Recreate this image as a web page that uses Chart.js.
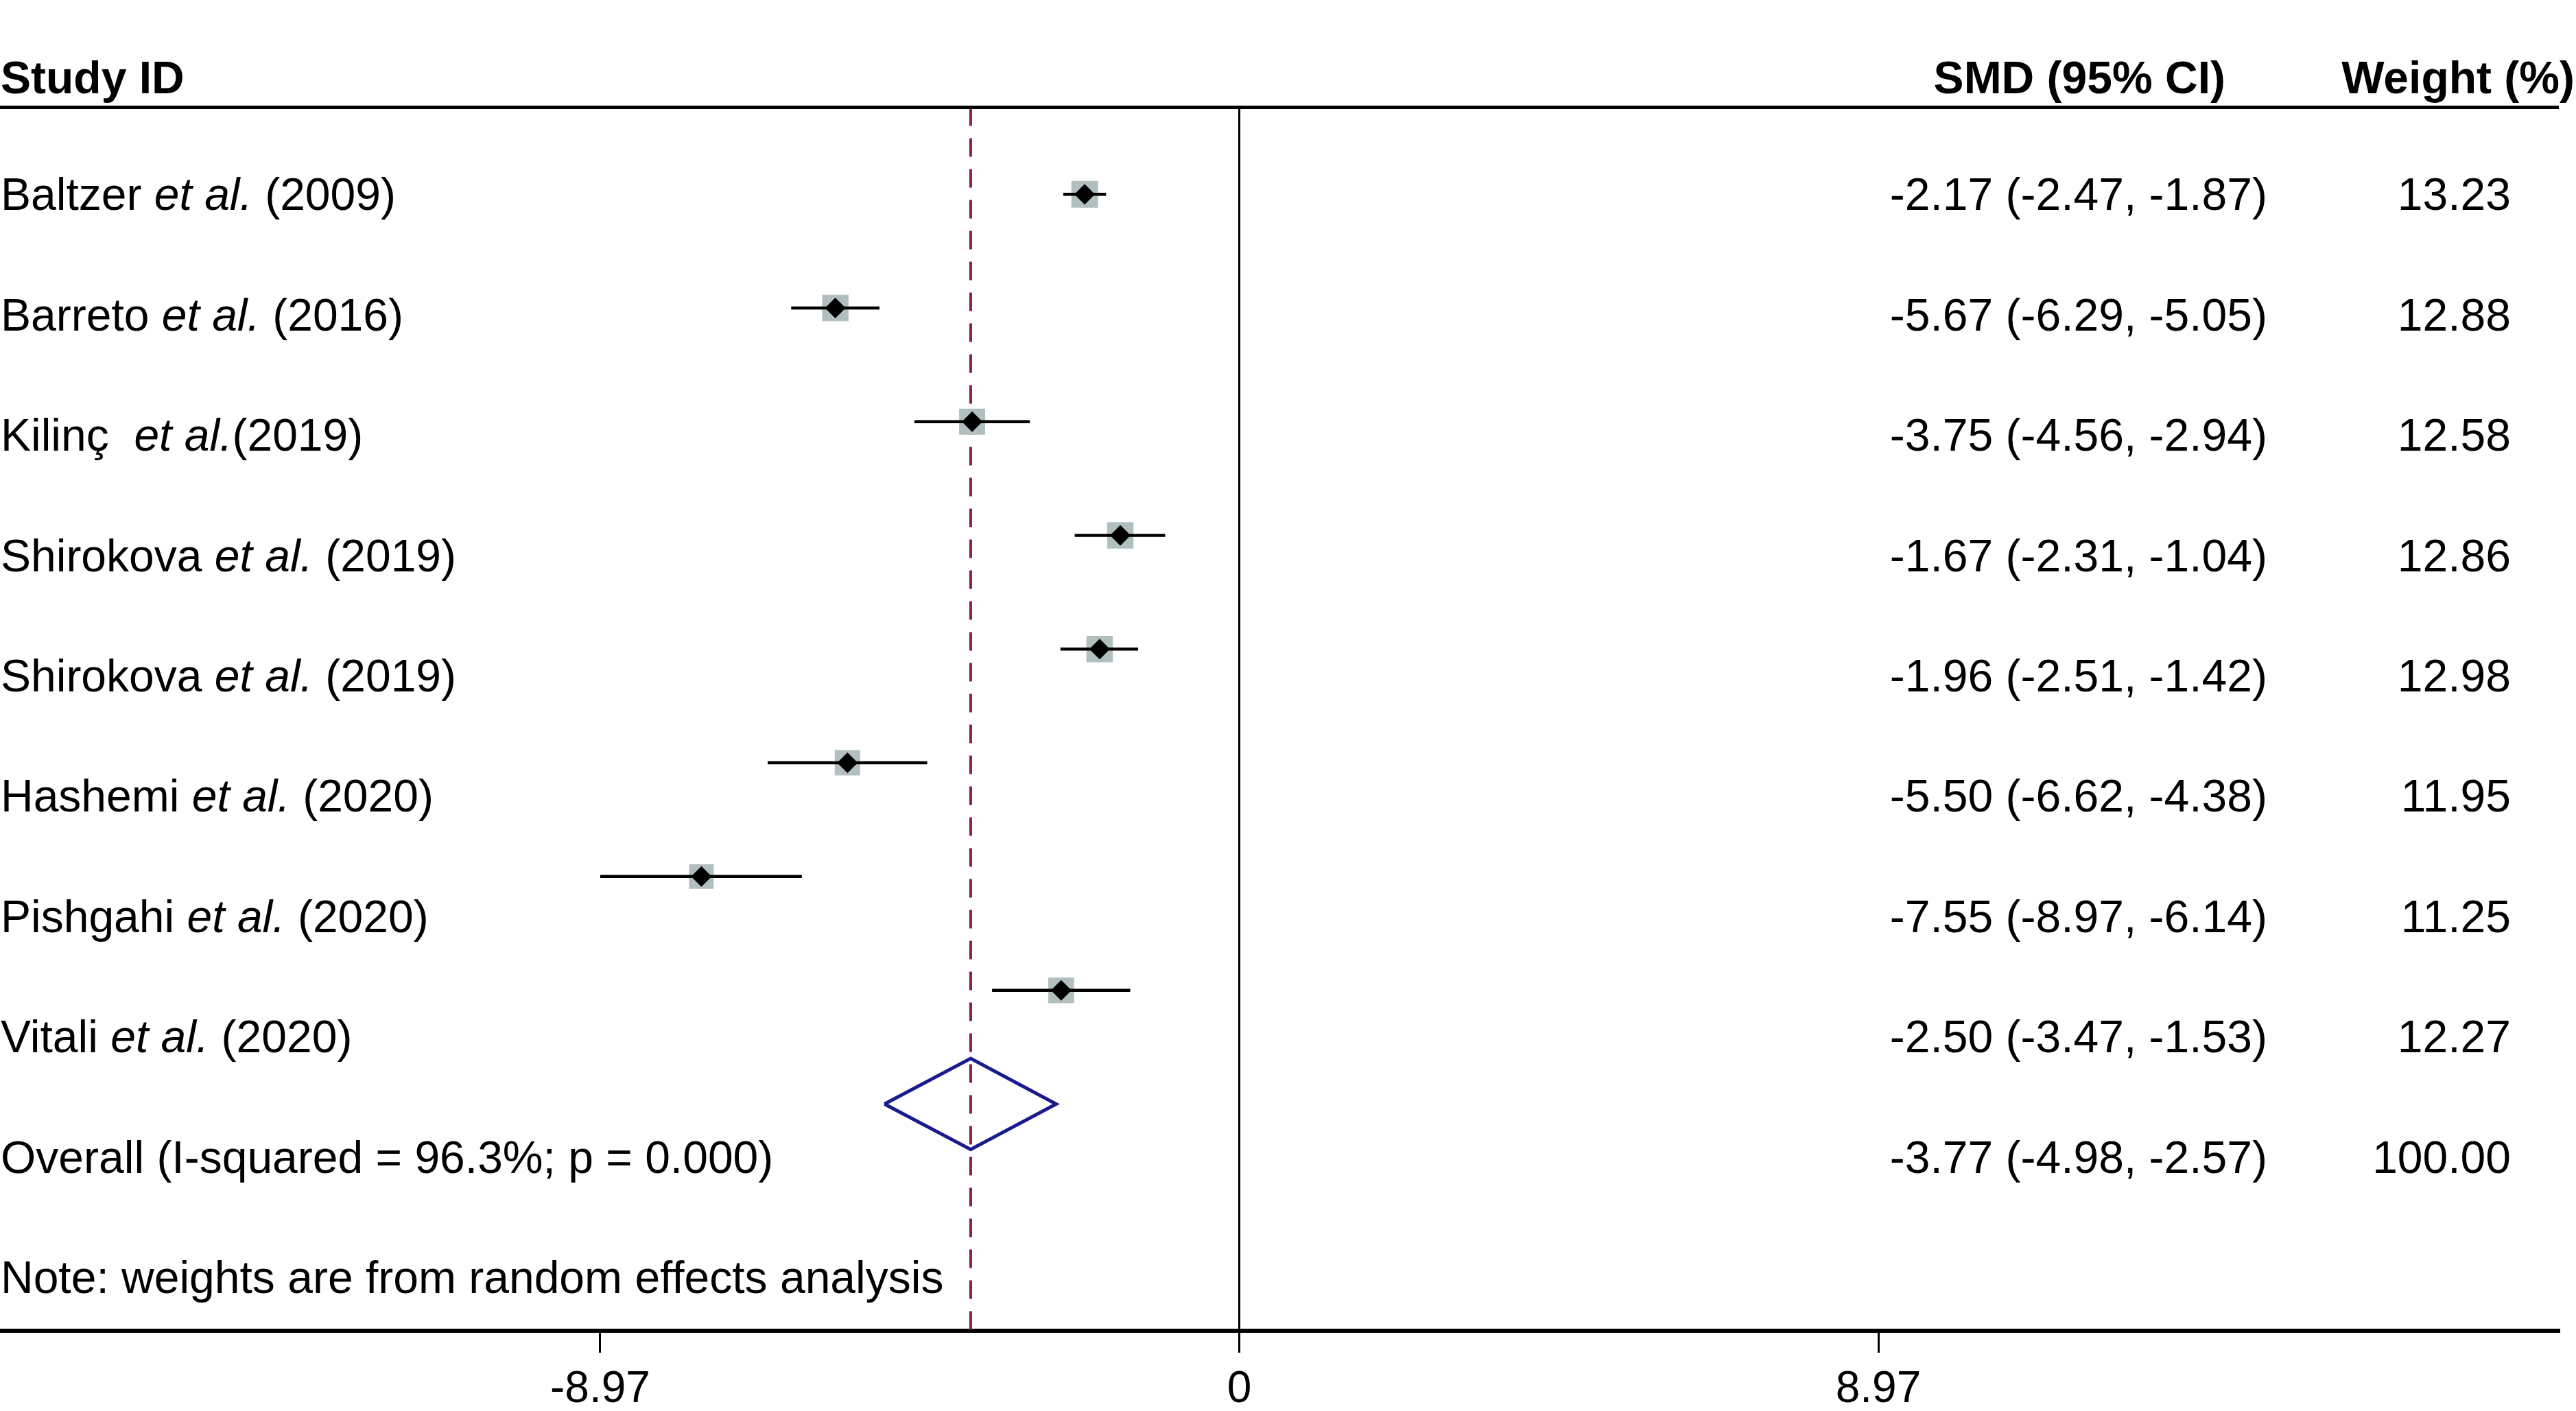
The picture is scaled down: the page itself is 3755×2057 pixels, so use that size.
<!DOCTYPE html>
<html lang="en">
<head>
    <meta charset="UTF-8">
    <title>Forest plot - SMD</title>
    <script src="https://cdn.jsdelivr.net/npm/chart.js"></script>
    <style>
        body {
            margin: 0;
            background: #fff;
            overflow: hidden;
        }
    </style>
</head>
<body>
    <canvas id="forest" width="3755" height="2057"></canvas>

    <script>
        // Study rows (text between * is italic)
        const studies = [
            'Baltzer *et al.* (2009)',
            'Barreto *et al.* (2016)',
            'Kilinç  *et al.*(2019)',
            'Shirokova *et al.* (2019)',
            'Shirokova *et al.* (2019)',
            'Hashemi *et al.* (2020)',
            'Pishgahi *et al.* (2020)',
            'Vitali *et al.* (2020)'
        ];
        const smd     = [-2.17, -5.67, -3.75, -1.67, -1.96, -5.50, -7.55, -2.50];
        const ciLow   = [-2.47, -6.29, -4.56, -2.31, -2.51, -6.62, -8.97, -3.47];
        const ciHigh  = [-1.87, -5.05, -2.94, -1.04, -1.42, -4.38, -6.14, -1.53];
        const weights = [13.23, 12.88, 12.58, 12.86, 12.98, 11.95, 11.25, 12.27];

        // Pooled estimate
        const overallLabel  = 'Overall (I-squared = 96.3%; p = 0.000)';
        const overallSmd    = -3.77;
        const overallLow    = -4.98;
        const overallHigh   = -2.57;
        const overallWeight = 100.00;

        const noteText = 'Note: weights are from random effects analysis';
        const xTicks = [-8.97, 0, 8.97];

        // scale ranges
        const X_MIN = -17.395, X_MAX = 18.522;
        const Y_MIN = -0.764, Y_MAX = 9.994;      // marker rows
        const T_MIN = -0.853, T_MAX = 9.312;      // text rows (baselines)

        const FONT = "'Liberation Sans', Arial, Helvetica, sans-serif";
        const GREY = '#b2bfbf';
        const overallRow = studies.length;

        // datasets
        const ciSets = studies.map((s, i) => ({
            type: 'line',
            data: [{ x: ciLow[i], y: i }, { x: ciHigh[i], y: i }],
            borderColor: '#000',
            borderWidth: 4.5,
            borderCapStyle: 'butt',
            pointRadius: 0,
            order: 1
        }));

        const datasets = [
            {
                // black point estimate
                data: smd.map((v, i) => ({ x: v, y: i })),
                pointStyle: 'rectRot',
                pointRadius: 15,
                backgroundColor: '#000',
                borderWidth: 0,
                order: 0
            },
            ...ciSets,
            {
                // weight boxes
                data: smd.map((v, i) => ({ x: v, y: i })),
                pointStyle: 'rect',
                pointRadius: ctx => 7.57 * Math.sqrt(weights[ctx.dataIndex]),
                backgroundColor: GREY,
                borderWidth: 0,
                order: 2
            },
            {
                // overall diamond
                type: 'line',
                data: [
                    { x: overallLow, y: overallRow },
                    { x: overallSmd, y: overallRow - 0.4 },
                    { x: overallHigh, y: overallRow },
                    { x: overallSmd, y: overallRow + 0.4 },
                    { x: overallLow, y: overallRow }
                ],
                borderColor: '#1a1a8f',
                borderWidth: 5,
                borderJoinStyle: 'miter',
                pointRadius: 0,
                fill: false,
                order: 1
            },
            {
                // dashed line at overall estimate
                type: 'line',
                data: [{ x: overallSmd, y: Y_MIN }, { x: overallSmd, y: Y_MAX }],
                borderColor: '#8c1f45',
                borderWidth: 4,
                borderDash: [27, 18],
                pointRadius: 0,
                order: 3
            }
        ];

        function drawRich(ctx, str, x, y, size) {
            let cx = x;
            str.split('*').forEach((part, k) => {
                ctx.font = (k % 2 ? 'italic ' : '') + size + 'px ' + FONT;
                ctx.fillText(part, cx, y);
                cx += ctx.measureText(part).width;
            });
        }

        const tablePlugin = {
            id: 'forestTable',
            afterDraw(chart) {
                const ctx = chart.ctx;
                const area = chart.chartArea;
                const rows = chart.scales.txt;
                ctx.save();

                // header rule
                ctx.strokeStyle = '#000';
                ctx.lineWidth = 5;
                ctx.beginPath();
                ctx.moveTo(area.left, area.top);
                ctx.lineTo(area.right, area.top);
                ctx.stroke();

                ctx.fillStyle = '#000';
                ctx.textBaseline = 'alphabetic';

                // headers
                const hy = area.top - 20.5;
                ctx.font = 'bold 66px ' + FONT;
                ctx.textAlign = 'left';
                ctx.fillText('Study ID', 1, hy);
                ctx.textAlign = 'right';
                ctx.fillText('SMD (95% CI)', 3244, hy);
                ctx.fillText('Weight (%)', 3753, hy);

                // study rows
                studies.forEach((s, i) => {
                    const y = rows.getPixelForValue(i);
                    ctx.textAlign = 'left';
                    drawRich(ctx, s, 1, y, 66);
                    ctx.font = '66px ' + FONT;
                    ctx.textAlign = 'right';
                    ctx.fillText(smd[i].toFixed(2) + ' (' + ciLow[i].toFixed(2) + ', ' + ciHigh[i].toFixed(2) + ')', 3305, y);
                    ctx.fillText(weights[i].toFixed(2), 3660, y);
                });

                // overall row
                let y = rows.getPixelForValue(overallRow);
                ctx.font = '66px ' + FONT;
                ctx.textAlign = 'left';
                ctx.fillText(overallLabel, 1, y);
                ctx.textAlign = 'right';
                ctx.fillText(overallSmd.toFixed(2) + ' (' + overallLow.toFixed(2) + ', ' + overallHigh.toFixed(2) + ')', 3305, y);
                ctx.fillText(overallWeight.toFixed(2), 3660, y);

                // note
                y = rows.getPixelForValue(overallRow + 1);
                ctx.textAlign = 'left';
                ctx.fillText(noteText, 1, y);

                ctx.restore();
            }
        };

        const chart = new Chart(document.getElementById('forest'), {
            type: 'scatter',
            data: { datasets: datasets },
            options: {
                responsive: false,
                animation: false,
                events: [],
                layout: {
                    autoPadding: false,
                    padding: { top: 156.5, right: 25, left: 0, bottom: -23 }
                },
                plugins: {
                    legend: { display: false },
                    tooltip: { enabled: false }
                },
                scales: {
                    x: {
                        type: 'linear',
                        position: 'bottom',
                        min: X_MIN,
                        max: X_MAX,
                        afterBuildTicks: axis => {
                            axis.ticks = xTicks.map(v => ({ value: v }));
                        },
                        border: { display: true, color: '#000', width: 6 },
                        grid: {
                            drawOnChartArea: true,
                            drawTicks: true,
                            color: c => (c.tick && c.tick.value === 0) ? '#000' : 'rgba(0,0,0,0)',
                            lineWidth: 3,
                            tickColor: '#000',
                            tickWidth: 3,
                            tickLength: 32
                        },
                        ticks: {
                            autoSkip: false,
                            maxRotation: 0,
                            padding: 22,
                            color: '#000',
                            font: { family: FONT, size: 64, lineHeight: 1.0 },
                            callback: v => v === 0 ? '0' : v.toFixed(2)
                        }
                    },
                    y: {
                        type: 'linear',
                        display: false,
                        reverse: true,
                        min: Y_MIN,
                        max: Y_MAX
                    },
                    txt: {
                        type: 'linear',
                        axis: 'y',
                        display: false,
                        reverse: true,
                        min: T_MIN,
                        max: T_MAX
                    }
                }
            },
            plugins: [tablePlugin]
        });
    </script>
</body>
</html>
